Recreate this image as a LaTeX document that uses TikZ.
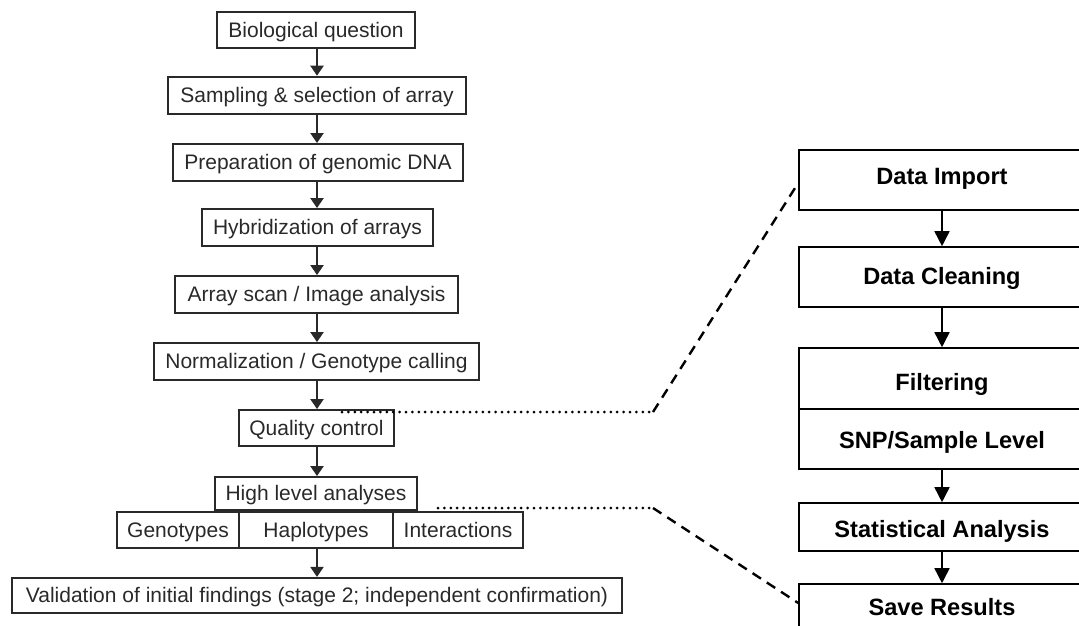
\documentclass[tikz,border=0pt]{standalone}
\usepackage{fontspec}
\setmainfont{Liberation Sans}
\usetikzlibrary{arrows.meta}
\definecolor{lgray}{rgb}{0.16,0.16,0.16}
\tikzset{
  lbox/.style={draw=lgray, line width=1.9pt, text=lgray, inner sep=0pt,
    text height=15pt, text depth=1pt,
    font=\fontsize{21}{24}\selectfont},
  rbox/.style={draw=black, line width=1.6pt, inner sep=0pt, minimum width=286pt,
    text height=17pt, text depth=8pt,
    font=\fontsize{23.6}{27}\selectfont\bfseries},
  larr/.style={draw=lgray, line width=2.2pt, -{Triangle[width=13pt,length=10pt]}},
  rarr/.style={draw=black, line width=1.6pt, -{Triangle[width=15pt,length=15pt]}},
  dotline/.style={line width=3pt, line cap=round, dash pattern=on 0pt off 6.4pt},
  dashline/.style={line width=2.4pt, dash pattern=on 10pt off 7pt},
}
\begin{document}
\begin{tikzpicture}[x=1pt,y=-1pt]
\useasboundingbox (0,0) rectangle (1079,625);
% left column
\node[lbox, minimum width=198pt, minimum height=36pt] (bio) at (316,30) {Biological question};
\node[lbox, line width=2.6pt, minimum width=298pt, minimum height=37pt] (samp) at (317,95.5) {Sampling \& selection of array};
\node[lbox, minimum width=290pt, minimum height=37pt] (prep) at (318,162.5) {Preparation of genomic DNA};
\node[lbox, minimum width=231pt, minimum height=37pt] (hyb) at (317.5,227.5) {Hybridization of arrays};
\node[lbox, minimum width=283pt, minimum height=37pt] (scan) at (316.5,294.5) {Array scan / Image analysis};
\node[lbox, minimum width=325pt, minimum height=37pt] (norm) at (316.5,361.5) {Normalization / Genotype calling};
\node[lbox, minimum width=155pt, minimum height=36pt] (qc) at (316.5,428) {Quality control};
\node[lbox, minimum width=202pt, minimum height=33pt] (high) at (316,493.5) {High level analyses};
\node[lbox, line width=2.4pt, minimum width=122pt, minimum height=36pt] (geno) at (178,530) {Genotypes};
\node[lbox, line width=2.4pt, minimum width=154pt, minimum height=36pt] (haplo) at (316,530) {Haplotypes};
\node[lbox, line width=2.4pt, minimum width=130pt, minimum height=36pt] (inter) at (458,530) {Interactions};
\node[lbox, line width=2.2pt, minimum width=610pt, minimum height=35pt] (valid) at (317,595.5) {Validation of initial findings (stage 2; independent confirmation)};

\draw[larr] (bio.south -| 317,0) -- (samp.north -| 317,0);
\draw[larr] (samp.south -| 317,0) -- (prep.north -| 317,0);
\draw[larr] (prep.south -| 317,0) -- (hyb.north -| 317,0);
\draw[larr] (hyb.south -| 317,0) -- (scan.north -| 317,0);
\draw[larr] (scan.south -| 317,0) -- (norm.north -| 317,0);
\draw[larr] (norm.south -| 317,0) -- (qc.north -| 317,0);
\draw[larr] (qc.south -| 317,0) -- (high.north -| 317,0);
\draw[larr] (haplo.south -| 317,0) -- (valid.north -| 317,0);

% right column
\node[rbox, minimum height=60pt] (imp) at (942,180) {Data Import};
\node[rbox, minimum height=60pt, text height=22pt] (clean) at (942,277) {Data Cleaning};
\node[rbox, minimum height=61pt, text height=32pt] (filt) at (942,378.5) {Filtering};
\node[rbox, minimum height=60pt, text height=27pt] (snp) at (942,439) {SNP/Sample Level};
\node[rbox, minimum height=48pt, text height=29pt] (stat) at (942,527) {Statistical Analysis};
\node[rbox, minimum height=48pt, text height=23pt] (save) at (942,608) {Save Results};

\draw[rarr] (imp) -- (clean);
\draw[rarr] (clean) -- (filt);
\draw[rarr] (snp) -- (stat);
\draw[rarr] (stat) -- (save);

% connectors
\coordinate (q1) at (342,412);
\coordinate (k1) at (653,412);
\coordinate (h1) at (438,508);
\coordinate (k2) at (653,508);
\draw[dotline] (q1) -- (k1);
\draw[dashline] (k1) -- (imp.west |- 0,183);
\draw[dotline] (h1) -- (k2);
\draw[dashline] (k2) -- (save.west |- 0,603);
\end{tikzpicture}
\end{document}
